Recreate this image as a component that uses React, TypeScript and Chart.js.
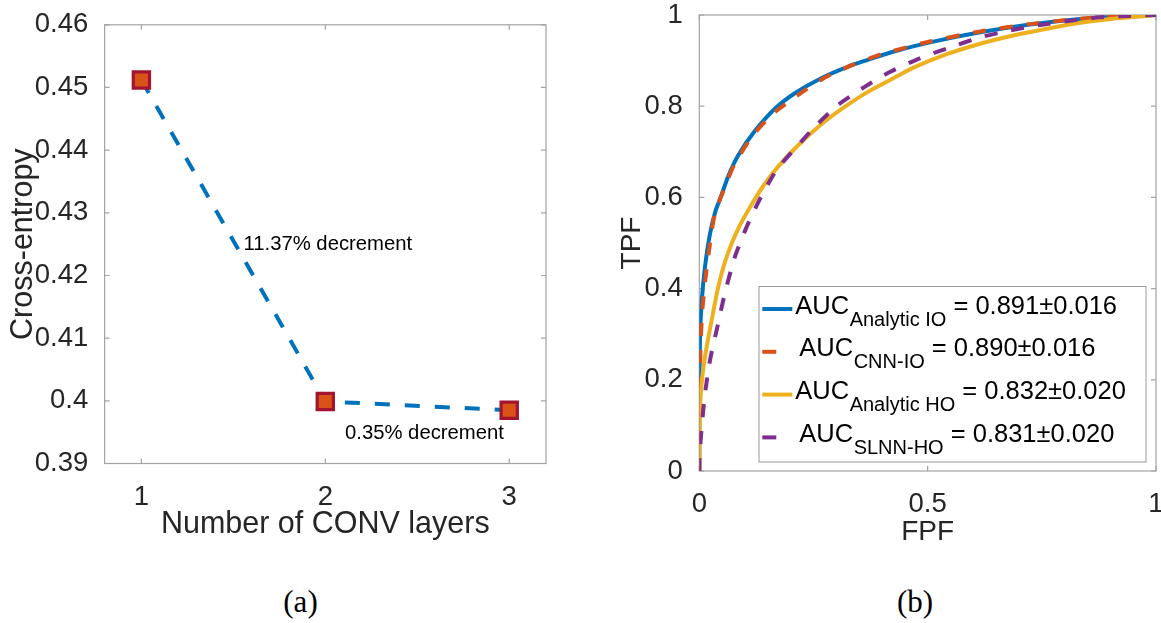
import React, { useEffect, useRef } from "react";
import { Chart, registerables } from "chart.js";

Chart.register(...registerables);

// ---------- Panel (a) data ----------
const convLayers = [1, 2, 3];
const crossEntropy = [0.4512, 0.3999, 0.3985];
const xTicksA = [1, 2, 3];
const xTickLabelsA = ["1", "2", "3"];
const yTicksA = [0.39, 0.4, 0.41, 0.42, 0.43, 0.44, 0.45, 0.46];
const yTickLabelsA = ["0.39", "0.4", "0.41", "0.42", "0.43", "0.44", "0.45", "0.46"];
const noteTexts = ["11.37% decrement", "0.35% decrement"];
const noteX = [1.555, 2.107];
const noteY = [0.4249, 0.3948];

// ---------- Panel (b) data ----------
const fpfAnalyticIO = [0, 0.0002, 0.0015, 0.0053, 0.0125, 0.0234, 0.036, 0.046, 0.064, 0.085, 0.122, 0.166, 0.21, 0.268, 0.326, 0.385, 0.43, 0.505, 0.615, 0.724, 0.834, 0.943, 1];
const tpfAnalyticIO = [0, 0.15, 0.29, 0.372, 0.448, 0.52, 0.572, 0.598, 0.648, 0.692, 0.746, 0.795, 0.829, 0.862, 0.887, 0.907, 0.921, 0.94, 0.962, 0.979, 0.991, 0.998, 1];

const fpfCnnIO = [0, 0.0005, 0.0015, 0.003, 0.0066, 0.014, 0.0234, 0.034, 0.056, 0.078, 0.118, 0.162, 0.217, 0.2715, 0.334, 0.399, 0.505, 0.615, 0.724, 0.834, 0.943, 1];
const tpfCnnIO = [0, 0.13, 0.207, 0.28, 0.353, 0.426, 0.499, 0.565, 0.623, 0.675, 0.737, 0.784, 0.825, 0.861, 0.89, 0.914, 0.942, 0.964, 0.98, 0.992, 0.998, 1];

const fpfAnalyticHO = [0, 0.0003, 0.0015, 0.0066, 0.0162, 0.0271, 0.0416, 0.06, 0.0854, 0.112, 0.14, 0.173, 0.217, 0.268, 0.319, 0.37, 0.43, 0.47, 0.5417, 0.615, 0.6875, 0.761, 0.834, 0.9065, 0.979, 1];
const tpfAnalyticHO = [0, 0.04, 0.141, 0.207, 0.273, 0.331, 0.404, 0.47, 0.532, 0.58, 0.625, 0.668, 0.715, 0.761, 0.799, 0.832, 0.864, 0.885, 0.914, 0.937, 0.955, 0.97, 0.983, 0.992, 0.998, 1];

const fpfSlnnHO = [0, 0.0001, 0.0053, 0.0125, 0.0234, 0.038, 0.056, 0.078, 0.104, 0.133, 0.169, 0.213, 0.257, 0.304, 0.363, 0.415, 0.483, 0.549, 0.615, 0.677, 0.746, 0.812, 0.877, 0.943, 1];
const tpfSlnnHO = [0, 0.024, 0.097, 0.17, 0.243, 0.309, 0.39, 0.47, 0.536, 0.597, 0.66, 0.711, 0.759, 0.803, 0.843, 0.874, 0.905, 0.929, 0.951, 0.9656, 0.978, 0.9875, 0.995, 0.998, 1];

const seriesNames = ["Analytic IO", "CNN-IO", "Analytic HO", "SLNN-HO"];
const aucValues = ["0.891", "0.890", "0.832", "0.831"];
const aucErrors = ["0.016", "0.016", "0.020", "0.020"];

const xTicksB = [0, 0.5, 1];
const xTickLabelsB = ["0", "0.5", "1"];
const yTicksB = [0, 0.2, 0.4, 0.6, 0.8, 1];
const yTickLabelsB = ["0", "0.2", "0.4", "0.6", "0.8", "1"];

const FONT = '"Liberation Sans", Arial, Helvetica, sans-serif';
const TEXT = "#262626";

const toPoints = (xs: number[], ys: number[]) => xs.map((x, i) => ({ x, y: ys[i] }));

const boxPlugin = {
  id: "matlabBox",
  beforeDatasetsDraw(chart: any, _args: any, o: any) {
    const { ctx, chartArea, scales } = chart;
    const { left, right, top, bottom } = chartArea;
    ctx.save();
    ctx.strokeStyle = o.color;
    ctx.lineWidth = o.width;
    ctx.strokeRect(left, top, right - left, bottom - top);
    ctx.beginPath();
    const tl = o.tickLength;
    scales.x.ticks.forEach((t: any) => {
      const px = scales.x.getPixelForValue(t.value);
      ctx.moveTo(px, bottom);
      ctx.lineTo(px, bottom - tl);
      ctx.moveTo(px, top);
      ctx.lineTo(px, top + tl);
    });
    scales.y.ticks.forEach((t: any) => {
      const py = scales.y.getPixelForValue(t.value);
      ctx.moveTo(left, py);
      ctx.lineTo(left + tl, py);
      ctx.moveTo(right, py);
      ctx.lineTo(right - tl, py);
    });
    ctx.stroke();
    ctx.restore();
  },
};

const notesPlugin = {
  id: "notes",
  afterDatasetsDraw(chart: any, _args: any, o: any) {
    const { ctx, scales } = chart;
    ctx.save();
    ctx.font = `${o.size}px ${FONT}`;
    ctx.fillStyle = "#000";
    ctx.textAlign = "left";
    ctx.textBaseline = "middle";
    o.texts.forEach((t: string, i: number) => {
      ctx.fillText(t, scales.x.getPixelForValue(o.xs[i]), scales.y.getPixelForValue(o.ys[i]));
    });
    ctx.restore();
  },
};

const subLegendPlugin = {
  id: "subLegend",
  afterDatasetsDraw(chart: any, _args: any, o: any) {
    const { ctx, chartArea } = chart;
    const left = chartArea.left + o.offLeft;
    const right = chartArea.right - o.offRight;
    const top = chartArea.top + o.offTop;
    const bottom = chartArea.bottom - o.offBottom;
    ctx.save();
    ctx.fillStyle = "#fff";
    ctx.fillRect(left, top, right - left, bottom - top);
    ctx.strokeStyle = o.borderColor;
    ctx.lineWidth = 1;
    ctx.strokeRect(left, top, right - left, bottom - top);
    chart.data.datasets.forEach((ds: any, i: number) => {
      const base = top + o.firstBaseline + i * o.rowGap;
      const dashed = !!(ds.borderDash && ds.borderDash.length);
      ctx.strokeStyle = ds.borderColor;
      ctx.lineWidth = ds.borderWidth;
      ctx.setLineDash([]);
      ctx.beginPath();
      const sx = left + o.sampleX;
      ctx.moveTo(sx, base - o.sampleRise);
      ctx.lineTo(sx + (dashed ? o.dashLen : o.sampleLen), base - o.sampleRise);
      ctx.stroke();
      let tx = left + o.textX + (dashed ? o.dashedShift : 0);
      ctx.fillStyle = "#000";
      ctx.textAlign = "left";
      ctx.textBaseline = "alphabetic";
      const main = `${o.mainSize}px ${FONT}`;
      const sub = `${o.subSize}px ${FONT}`;
      ctx.font = main;
      ctx.fillText("AUC", tx, base);
      tx += ctx.measureText("AUC").width + 0.5;
      ctx.font = sub;
      ctx.fillText(o.names[i], tx, base + o.subDrop);
      tx += ctx.measureText(o.names[i]).width;
      ctx.font = main;
      ctx.fillText(` = ${o.values[i]}\u00B1${o.errors[i]}`, tx, base);
    });
    ctx.restore();
  },
};

function PanelA() {
  const ref = useRef<HTMLCanvasElement>(null);
  useEffect(() => {
    const chart = new Chart(ref.current as HTMLCanvasElement, {
      type: "line",
      data: {
        datasets: [
          {
            label: "Cross-entropy",
            data: toPoints(convLayers, crossEntropy),
            borderColor: "#0072BD",
            borderWidth: 4,
            borderDash: [15, 15],
            pointStyle: "rect",
            pointRadius: 11.5,
            pointBackgroundColor: "#D95319",
            pointBorderColor: "#A2142F",
            pointBorderWidth: 3.2,
            tension: 0,
            fill: false,
          },
        ],
      },
      options: {
        responsive: false,
        animation: false,
        layout: { padding: { left: 0, top: 22.5, right: 34, bottom: 17 } },
        plugins: {
          legend: { display: false },
          tooltip: { enabled: false },
          matlabBox: { color: "#a3a3a3", width: 1.2, tickLength: 5 },
          notes: { texts: noteTexts, xs: noteX, ys: noteY, size: 20.3 },
        } as any,
        scales: {
          x: {
            type: "linear",
            min: 0.8,
            max: 3.2,
            grid: { display: false },
            border: { display: false },
            afterBuildTicks: (s: any) => {
              s.ticks = xTicksA.map((v) => ({ value: v }));
            },
            afterFit: (s: any) => {
              s.height = 79.5;
            },
            ticks: {
              autoSkip: false,
              maxRotation: 0,
              padding: 9,
              color: TEXT,
              font: { size: 27.5, family: FONT },
              callback: (_v: any, i: number) => xTickLabelsA[i],
            },
            title: {
              display: true,
              text: "Number of CONV layers",
              color: TEXT,
              font: { size: 30.5, family: FONT },
              padding: { top: 0, bottom: 0 },
            },
          },
          y: {
            type: "linear",
            min: 0.39,
            max: 0.46,
            grid: { display: false },
            border: { display: false },
            afterBuildTicks: (s: any) => {
              s.ticks = yTicksA.map((v) => ({ value: v }));
            },
            afterFit: (s: any) => {
              s.width = 104.6;
            },
            ticks: {
              autoSkip: false,
              padding: 8.3,
              color: TEXT,
              font: { size: 27.5, family: FONT },
              callback: (_v: any, i: number) => yTickLabelsA[i],
            },
            title: {
              display: true,
              text: "Cross-entropy",
              color: TEXT,
              font: { size: 30.5, family: FONT },
              padding: { top: 5.5, bottom: 0 },
            },
          },
        },
      } as any,
      plugins: [boxPlugin, notesPlugin],
    });
    return () => chart.destroy();
  }, []);
  return (
    <canvas
      ref={ref}
      width={580}
      height={560}
      style={{ position: "absolute", left: 0, top: 0, width: 580, height: 560 }}
    />
  );
}

function PanelB() {
  const ref = useRef<HTMLCanvasElement>(null);
  useEffect(() => {
    const mk = (label: string, xs: number[], ys: number[], color: string, dash: number[], order: number) => ({
      label,
      data: toPoints(xs, ys),
      borderColor: color,
      backgroundColor: color,
      borderWidth: 4,
      borderDash: dash,
      pointRadius: 0,
      tension: 0.2,
      fill: false,
      order,
    });
    const chart = new Chart(ref.current as HTMLCanvasElement, {
      type: "line",
      data: {
        datasets: [
          mk(seriesNames[0], fpfAnalyticIO, tpfAnalyticIO, "#0072BD", [], 3),
          mk(seriesNames[1], fpfCnnIO, tpfCnnIO, "#D95319", [13, 14], 2),
          mk(seriesNames[2], fpfAnalyticHO, tpfAnalyticHO, "#EDB120", [], 1),
          mk(seriesNames[3], fpfSlnnHO, tpfSlnnHO, "#7E2F8E", [13, 14], 0),
        ],
      },
      options: {
        responsive: false,
        animation: false,
        layout: { padding: { left: 0, top: 25, right: 24, bottom: 10.9 } },
        plugins: {
          legend: { display: false },
          tooltip: { enabled: false },
          matlabBox: { color: "#a3a3a3", width: 1.2, tickLength: 5 },
          subLegend: {
            offLeft: 59.7,
            offRight: 10,
            offTop: 271.5,
            offBottom: 9,
            borderColor: "#9a9a9a",
            firstBaseline: 27,
            rowGap: 42.8,
            sampleX: 3.3,
            sampleLen: 30,
            dashLen: 14,
            sampleRise: 4.5,
            textX: 36.3,
            dashedShift: 4,
            mainSize: 25.5,
            subSize: 20,
            subDrop: 12,
            names: seriesNames,
            values: aucValues,
            errors: aucErrors,
          },
        } as any,
        scales: {
          x: {
            type: "linear",
            min: 0,
            max: 1,
            grid: { display: false },
            border: { display: false },
            afterBuildTicks: (s: any) => {
              s.ticks = xTicksB.map((v) => ({ value: v }));
            },
            afterFit: (s: any) => {
              s.height = 78.1;
            },
            ticks: {
              autoSkip: false,
              maxRotation: 0,
              padding: 8.6,
              color: TEXT,
              font: { size: 27.5, family: FONT },
              callback: (_v: any, i: number) => xTickLabelsB[i],
            },
            title: {
              display: true,
              text: "FPF",
              color: TEXT,
              font: { size: 28, family: FONT },
              padding: { top: 0, bottom: 0 },
            },
          },
          y: {
            type: "linear",
            min: 0,
            max: 1,
            grid: { display: false },
            border: { display: false },
            afterBuildTicks: (s: any) => {
              s.ticks = yTicksB.map((v) => ({ value: v }));
            },
            afterFit: (s: any) => {
              s.width = 119.3;
            },
            ticks: {
              autoSkip: false,
              padding: 8.5,
              color: TEXT,
              font: { size: 27.5, family: FONT },
              callback: (_v: any, i: number) => yTickLabelsB[i],
            },
            title: {
              display: true,
              text: "TPF",
              color: TEXT,
              font: { size: 28, family: FONT },
              padding: { top: 35.9, bottom: 0 },
            },
          },
        },
      } as any,
      plugins: [boxPlugin, subLegendPlugin],
    });
    return () => chart.destroy();
  }, []);
  return (
    <canvas
      ref={ref}
      width={600}
      height={570}
      style={{ position: "absolute", left: 580, top: -10, width: 600, height: 570 }}
    />
  );
}

const captionStyle: React.CSSProperties = {
  position: "absolute",
  top: 582,
  width: 80,
  textAlign: "center",
  fontFamily: '"Liberation Serif", "DejaVu Serif", serif',
  fontSize: 31,
  lineHeight: "40px",
  color: "#000",
};

export default function App() {
  return (
    <div
      style={{
        position: "fixed",
        left: 0,
        top: 0,
        width: 1161,
        height: 623,
        background: "#fff",
        overflow: "hidden",
      }}
    >
      <PanelA />
      <PanelB />
      <div style={{ ...captionStyle, left: 300.5 - 40 }}>(a)</div>
      <div style={{ ...captionStyle, left: 915 - 40 }}>(b)</div>
    </div>
  );
}
